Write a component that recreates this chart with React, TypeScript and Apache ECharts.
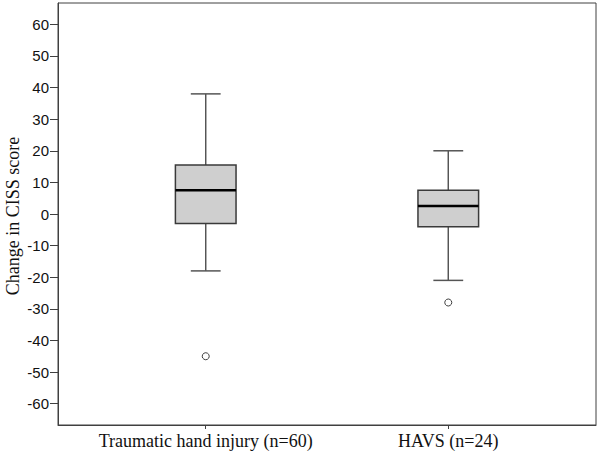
import React, { useEffect, useRef } from "react";
import * as echarts from "echarts";

const categories = ["Traumatic hand injury (n=60)", "HAVS (n=24)"];
const lowerWhisker = [-18, -21];
const q1 = [-3, -4];
const median = [7.5, 2.5];
const q3 = [15.5, 7.5];
const upperWhisker = [38, 20];
const outlierCategory = [1, 2];
const outlierValues = [-45, -28];
const yTicks = [-60, -50, -40, -30, -20, -10, 0, 10, 20, 30, 40, 50, 60];
const yAxisTitle = "Change in CISS score";

export default function App() {
  const ref = useRef<HTMLDivElement>(null);
  useEffect(() => {
    document.body.style.margin = "0";
    const chart = echarts.init(ref.current!, null, { renderer: "svg" });
    const boxData = categories.map((_, i) => [
      i + 1,
      lowerWhisker[i],
      q1[i],
      median[i],
      q3[i],
      upperWhisker[i],
    ]);
    const halfBox = 0.125;
    const halfCap = 0.0615;
    chart.setOption({
      animation: false,
      backgroundColor: "#fff",
      grid: {
        left: 58,
        right: 4,
        top: 3,
        bottom: 29,
        show: true,
        borderColor: "#404040",
        borderWidth: 1,
        containLabel: false,
        outerBoundsMode: "none",
      },
      graphic: [
        {
          type: "text",
          x: 13,
          y: 216,
          rotation: Math.PI / 2,
          style: {
            text: yAxisTitle,
            fontFamily: "Liberation Serif",
            fontSize: 18,
            fill: "#111",
            align: "center",
            verticalAlign: "middle",
          },
        },
      ],
      xAxis: {
        type: "value",
        min: 0.391,
        max: 2.609,
        splitLine: { show: false },
        axisLine: { show: true, onZero: false, lineStyle: { color: "#404040" } },
        axisTick: {
          show: true,
          length: 4,
          customValues: [1, 2],
          lineStyle: { color: "#404040" },
        },
        axisLabel: {
          customValues: [1, 2],
          formatter: (v: number) => categories[Math.round(v) - 1] ?? "",
          fontFamily: "Liberation Serif",
          fontSize: 18,
          color: "#111",
          margin: 7,
        },
      },
      yAxis: {
        type: "value",
        min: -66.75,
        max: 66.75,
        splitLine: { show: false },
        axisLine: { show: true, onZero: false, lineStyle: { color: "#404040" } },
        axisTick: {
          show: true,
          length: 8,
          customValues: yTicks,
          lineStyle: { color: "#404040" },
        },
        axisLabel: {
          customValues: yTicks,
          fontFamily: "Liberation Sans",
          fontSize: 15,
          color: "#111",
          margin: 9,
        },
      },
      series: [
        {
          type: "custom",
          data: boxData,
          renderItem: (params: any, api: any) => {
            const x = api.value(0);
            const lo = api.value(1);
            const a = api.value(2);
            const m = api.value(3);
            const b = api.value(4);
            const hi = api.value(5);
            const tl = api.coord([x - halfBox, b]);
            const br = api.coord([x + halfBox, a]);
            const c = (v: number) => api.coord([x, v]);
            const capL = (v: number) => api.coord([x - halfCap, v]);
            const capR = (v: number) => api.coord([x + halfCap, v]);
            const mL = api.coord([x - halfBox, m]);
            const mR = api.coord([x + halfBox, m]);
            const whiskerStyle = { stroke: "#555", lineWidth: 1.5 };
            return {
              type: "group",
              children: [
                { type: "line", shape: { x1: c(hi)[0], y1: c(hi)[1], x2: c(b)[0], y2: c(b)[1] }, style: whiskerStyle },
                { type: "line", shape: { x1: c(a)[0], y1: c(a)[1], x2: c(lo)[0], y2: c(lo)[1] }, style: whiskerStyle },
                { type: "line", shape: { x1: capL(hi)[0], y1: capL(hi)[1], x2: capR(hi)[0], y2: capR(hi)[1] }, style: whiskerStyle },
                { type: "line", shape: { x1: capL(lo)[0], y1: capL(lo)[1], x2: capR(lo)[0], y2: capR(lo)[1] }, style: whiskerStyle },
                {
                  type: "rect",
                  shape: { x: tl[0], y: tl[1], width: br[0] - tl[0], height: br[1] - tl[1] },
                  style: { fill: "#cfcfcf", stroke: "#3a3a3a", lineWidth: 1.5 },
                },
                { type: "line", shape: { x1: mL[0], y1: mL[1], x2: mR[0], y2: mR[1] }, style: { stroke: "#000", lineWidth: 2.5 } },
              ],
            };
          },
        },
        {
          type: "scatter",
          data: outlierCategory.map((c, i) => [c, outlierValues[i]]),
          symbol: "circle",
          symbolSize: 7,
          itemStyle: { color: "#fff", borderColor: "#111", borderWidth: 1 },
        },
      ],
    });
    return () => chart.dispose();
  }, []);
  return <div ref={ref} style={{ width: 600, height: 454 }} />;
}
